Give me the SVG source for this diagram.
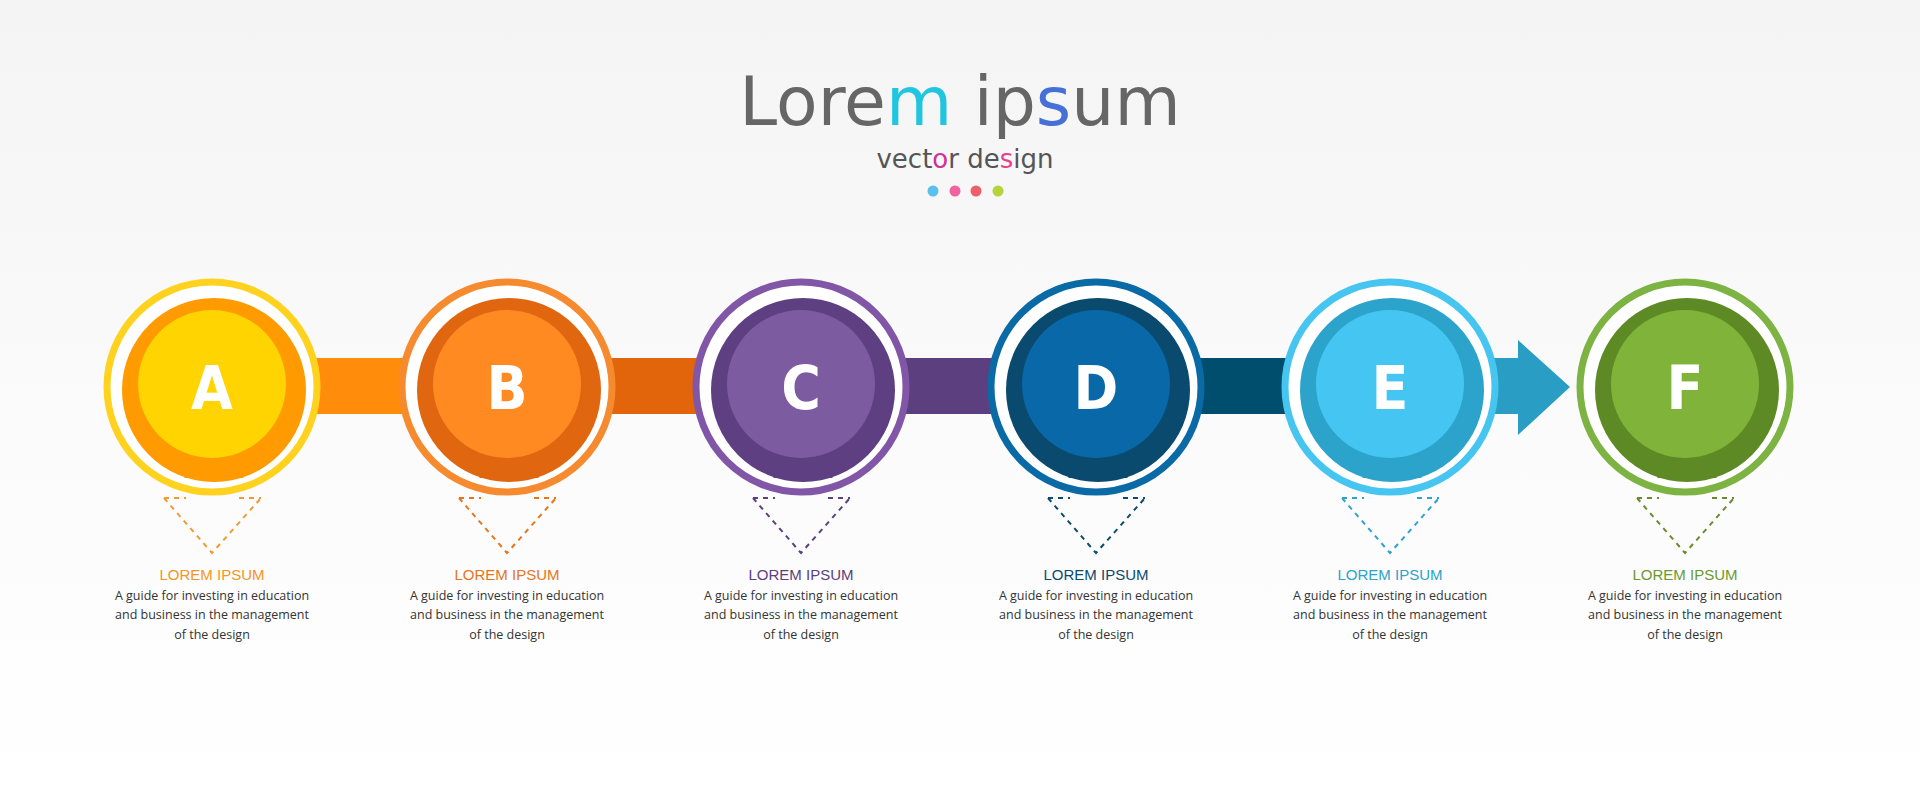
<svg xmlns="http://www.w3.org/2000/svg" width="1920" height="793" viewBox="0 0 1920 793">
<defs>
<linearGradient id="bg" x1="0" y1="0" x2="0" y2="1">
<stop offset="0" stop-color="#f4f4f4"/><stop offset="0.55" stop-color="#fbfbfb"/><stop offset="1" stop-color="#ffffff"/>
</linearGradient>
<g id="ticks"><line x1="-28" y1="470" x2="-28" y2="478"/><line x1="28" y1="470" x2="28" y2="478"/></g>
</defs>
<style>
.ring{fill:#fff;stroke-width:7}
.let{font-family:"Liberation Sans Narrow","DejaVu Sans Condensed","Liberation Sans",sans-serif;font-weight:bold;font-size:60px;fill:#fff;text-anchor:middle}
.h{font-family:"Liberation Sans",Arial,sans-serif;font-size:15px;text-anchor:middle}
.b{font-family:"Open Sans","Liberation Sans",sans-serif;font-size:12.5px;fill:#333;text-anchor:middle}
.tri{fill:none;stroke-width:2;stroke-dasharray:5 5}
.tk{stroke-width:3}
</style>
<rect width="1920" height="793" fill="url(#bg)"/>
<g id="title">
<text x="960" y="125" text-anchor="middle" font-family="DejaVu Sans,Verdana,sans-serif" font-size="68" fill="#666">Lore<tspan fill="#22C5E0">m</tspan> ip<tspan fill="#4470D8">s</tspan>um</text>
<text x="965" y="168" text-anchor="middle" font-family="DejaVu Sans,Verdana,sans-serif" font-size="26" fill="#555">vect<tspan fill="#CC3399">o</tspan>r de<tspan fill="#E8408A">s</tspan>ign</text>
<circle cx="933" cy="191" r="5.5" fill="#5BC0EB"/><circle cx="955" cy="191" r="5.5" fill="#F062A0"/><circle cx="976" cy="191" r="5.5" fill="#EE5F6E"/><circle cx="998" cy="191" r="5.5" fill="#B5D33A"/>
</g>
<g id="connectors">
<rect x="212" y="358" width="295" height="56" fill="#FF8C0A"/>
<rect x="507" y="358" width="294" height="56" fill="#E2650C"/>
<rect x="801" y="358" width="295" height="56" fill="#5B3F7E"/>
<rect x="1096" y="358" width="294" height="56" fill="#004E6E"/>
<path d="M1390 358 H1518 V340 L1570 387 L1518 435 V414 H1390 Z" fill="#2A9DC4"/>
</g>
<g id="nodeA">
<circle cx="212" cy="387" r="105" class="ring" stroke="#FFD21F"/>
<circle cx="214" cy="390" r="92" fill="#FF9A00"/>
<circle cx="212" cy="384" r="74" fill="#FFD400"/>
<text x="212" y="409" class="let">A</text>
<g stroke="#FF9A00" class="tk" transform="translate(214 0)"><use href="#ticks"/></g>
<path d="M164 498 L212 553 L261 498 M164 498 H186 M239 498 H261" class="tri" stroke="#F39A2E"/>
<text x="212" y="580" class="h" fill="#F7941D">LOREM IPSUM</text>
<text x="212" y="600" class="b">A guide for investing in education</text>
<text x="212" y="619" class="b">and business in the management</text>
<text x="212" y="639" class="b">of the design</text>
</g>
<g id="nodeB">
<circle cx="507" cy="387" r="105" class="ring" stroke="#F68A2E"/>
<circle cx="509" cy="390" r="92" fill="#E0660F"/>
<circle cx="507" cy="384" r="74" fill="#FF8A22"/>
<text x="507" y="409" class="let">B</text>
<g stroke="#E0660F" class="tk" transform="translate(509 0)"><use href="#ticks"/></g>
<path d="M459 498 L507 553 L556 498 M459 498 H481 M534 498 H556" class="tri" stroke="#E8741A"/>
<text x="507" y="580" class="h" fill="#E8741A">LOREM IPSUM</text>
<text x="507" y="600" class="b">A guide for investing in education</text>
<text x="507" y="619" class="b">and business in the management</text>
<text x="507" y="639" class="b">of the design</text>
</g>
<g id="nodeC">
<circle cx="801" cy="387" r="105" class="ring" stroke="#8256A6"/>
<circle cx="803" cy="390" r="92" fill="#5E3F82"/>
<circle cx="801" cy="384" r="74" fill="#7D5BA0"/>
<text x="801" y="409" class="let">C</text>
<g stroke="#5E3F82" class="tk" transform="translate(803 0)"><use href="#ticks"/></g>
<path d="M753 498 L801 553 L850 498 M753 498 H775 M828 498 H850" class="tri" stroke="#5B3F7E"/>
<text x="801" y="580" class="h" fill="#5B3F7E">LOREM IPSUM</text>
<text x="801" y="600" class="b">A guide for investing in education</text>
<text x="801" y="619" class="b">and business in the management</text>
<text x="801" y="639" class="b">of the design</text>
</g>
<g id="nodeD">
<circle cx="1096" cy="387" r="105" class="ring" stroke="#0A6AA6"/>
<circle cx="1098" cy="390" r="92" fill="#0A4A6E"/>
<circle cx="1096" cy="384" r="74" fill="#0868A8"/>
<text x="1096" y="409" class="let">D</text>
<g stroke="#0A4A6E" class="tk" transform="translate(1098 0)"><use href="#ticks"/></g>
<path d="M1048 498 L1096 553 L1145 498 M1048 498 H1070 M1123 498 H1145" class="tri" stroke="#0A4A6E"/>
<text x="1096" y="580" class="h" fill="#0A4A6E">LOREM IPSUM</text>
<text x="1096" y="600" class="b">A guide for investing in education</text>
<text x="1096" y="619" class="b">and business in the management</text>
<text x="1096" y="639" class="b">of the design</text>
</g>
<g id="nodeE">
<circle cx="1390" cy="387" r="105" class="ring" stroke="#46C5F0"/>
<circle cx="1392" cy="390" r="92" fill="#2BA3CB"/>
<circle cx="1390" cy="384" r="74" fill="#45C6F2"/>
<text x="1390" y="409" class="let">E</text>
<g stroke="#2BA3CB" class="tk" transform="translate(1392 0)"><use href="#ticks"/></g>
<path d="M1342 498 L1390 553 L1439 498 M1342 498 H1364 M1417 498 H1439" class="tri" stroke="#2BA3CB"/>
<text x="1390" y="580" class="h" fill="#2BA3CB">LOREM IPSUM</text>
<text x="1390" y="600" class="b">A guide for investing in education</text>
<text x="1390" y="619" class="b">and business in the management</text>
<text x="1390" y="639" class="b">of the design</text>
</g>
<g id="nodeF">
<circle cx="1685" cy="387" r="105" class="ring" stroke="#7CB342"/>
<circle cx="1687" cy="390" r="92" fill="#5E8A25"/>
<circle cx="1685" cy="384" r="74" fill="#80B33A"/>
<text x="1685" y="409" class="let">F</text>
<g stroke="#5E8A25" class="tk" transform="translate(1687 0)"><use href="#ticks"/></g>
<path d="M1637 498 L1685 553 L1734 498 M1637 498 H1659 M1712 498 H1734" class="tri" stroke="#6A8A2E"/>
<text x="1685" y="580" class="h" fill="#6A9A2E">LOREM IPSUM</text>
<text x="1685" y="600" class="b">A guide for investing in education</text>
<text x="1685" y="619" class="b">and business in the management</text>
<text x="1685" y="639" class="b">of the design</text>
</g>
</svg>
